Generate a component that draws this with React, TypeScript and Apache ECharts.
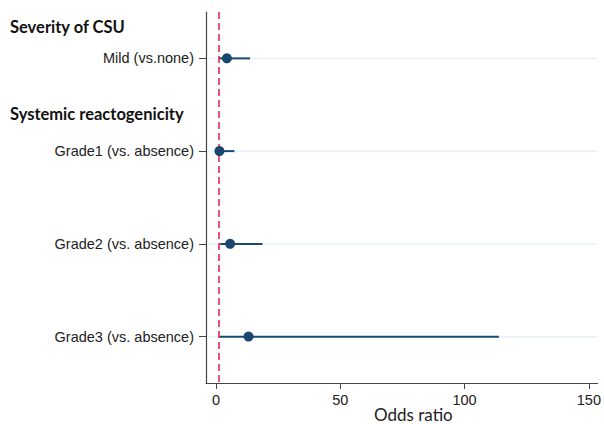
import React, { useEffect, useRef } from "react";
import * as echarts from "echarts";

const categories = [
  "Mild (vs.none)",
  "Grade1 (vs. absence)",
  "Grade2 (vs. absence)",
  "Grade3 (vs. absence)",
];
const oddsRatio = [4.4, 1.4, 5.7, 13.1];
const lowerCI = [1.3, 0.4, 1.7, 1.4];
const upperCI = [13.7, 7.4, 18.7, 113.8];
const xTicks = [0, 50, 100, 150];
const groupHeaders = ["Severity of CSU", "Systemic reactogenicity"];

const NAVY = "#1a476f";

export default function App() {
  const ref = useRef<HTMLDivElement>(null);
  useEffect(() => {
    if (!ref.current) return;
    const chart = echarts.init(ref.current, undefined, { renderer: "svg" });
    const ciData = categories.map((c, i) => [lowerCI[i], upperCI[i], i]);
    chart.setOption({
      animation: false,
      backgroundColor: "#ffffff",
      grid: { left: 206, right: 3, top: 12, bottom: 41 },
      xAxis: {
        type: "value",
        min: -4,
        max: 153.5,
        axisLine: { show: true, onZero: false, lineStyle: { color: "#444", width: 1.2 } },
        axisTick: { show: true, length: 6, lineStyle: { color: "#444" }, customValues: xTicks },
        axisLabel: {
          customValues: xTicks,
          color: "#222",
          fontSize: 14.5,
          fontFamily: "Liberation Sans, Arial",
          margin: 9,
        },
        splitLine: { show: false },
      },
      yAxis: {
        type: "category",
        data: categories,
        inverse: true,
        boundaryGap: true,
        axisLine: { show: true, onZero: false, lineStyle: { color: "#444", width: 1.2 } },
        axisTick: { show: true, alignWithLabel: true, length: 7, lineStyle: { color: "#444" } },
        axisLabel: {
          color: "#222",
          fontSize: 14.5,
          fontFamily: "Liberation Sans, Arial",
          margin: 12,
        },
        splitLine: { show: false },
      },
      graphic: [
        {
          type: "text",
          left: 10,
          top: 18,
          style: { text: groupHeaders[0], font: "bold 16.5px Lato", fill: "#111" },
        },
        {
          type: "text",
          left: 10,
          top: 105,
          style: { text: groupHeaders[1], font: "bold 16.5px Lato", fill: "#111" },
        },
        {
          type: "text",
          left: 374,
          top: 406,
          style: { text: "Odds ratio", font: "17px Lato", fill: "#222" },
        },
      ],
      series: [
        {
          type: "custom",
          data: ciData,
          encode: { x: [0, 1], y: 2 },
          z: 3,
          renderItem: (params: any, api: any) => {
            const cs = params.coordSys;
            const p1 = api.coord([api.value(0), api.value(2)]);
            const p2 = api.coord([api.value(1), api.value(2)]);
            return {
              type: "group",
              children: [
                {
                  type: "line",
                  shape: { x1: cs.x + 1, y1: p1[1], x2: cs.x + cs.width, y2: p1[1] },
                  style: { stroke: "#e9f1f8", lineWidth: 1.5 },
                },
                {
                  type: "line",
                  shape: { x1: p1[0], y1: p1[1], x2: p2[0], y2: p2[1] },
                  style: { stroke: NAVY, lineWidth: 2 },
                },
              ],
            };
          },
        },
        {
          type: "scatter",
          data: categories.map((c, i) => [oddsRatio[i], i]),
          symbol: "circle",
          symbolSize: 10,
          itemStyle: { color: NAVY, opacity: 1 },
          z: 6,
          markLine: {
            silent: true,
            symbol: "none",
            label: { show: false },
            lineStyle: { color: "#e8194f", type: [7, 4], width: 1.5 },
            z: 5,
            data: [{ xAxis: 1 }],
          },
        },
      ],
    });
    return () => chart.dispose();
  }, []);
  return (
    <div
      ref={ref}
      style={{ position: "fixed", left: 0, top: 0, width: 604, height: 424 }}
    />
  );
}
